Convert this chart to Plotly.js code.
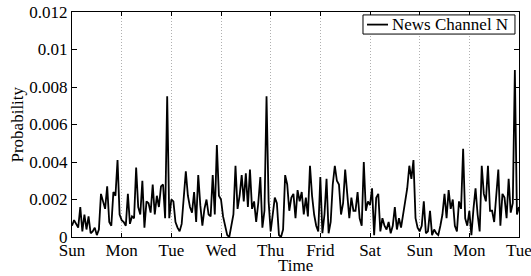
<!DOCTYPE html>
<html>
<head>
<meta charset="utf-8">
<script src="https://cdn.plot.ly/plotly-3.0.1.min.js"></script>
<style>html,body{margin:0;padding:0;background:#fff;}#chart{width:531px;height:276px;}</style>
</head>
<body>
<div id="chart"></div>
<script>
// Hourly probability values, one array per day
const sun1 = [0.0006,0.0009,0.0007,0.0005,0.0016,0.0003,0.0012,0.0004,0.0011,0.0002,0.0003,0.0005,0.0001,0.0004,0.0023,0.0019,0.0015,0.0027,0.0008,0.0006,0.0024,0.0022,0.0041,0.0012];
const mon1 = [0.0009,0.0008,0.0006,0.0023,0.0007,0.0011,0.0010,0.0037,0.0016,0.0012,0.0030,0.0005,0.0019,0.0018,0.0013,0.0028,0.0012,0.0022,0.0016,0.0027,0.0028,0.0010,0.0075,0.0010];
const tue1 = [0.0020,0.0019,0.0008,0.0005,0.0003,0.0007,0.0023,0.0035,0.0022,0.0016,0.0013,0.0024,0.0008,0.0033,0.0017,0.0006,0.0015,0.0020,0.0012,0.0011,0.0033,0.0012,0.0049,0.0022];
const wed  = [0.0020,0.0011,0.0006,0.0001,0.0000,0.0006,0.0012,0.0038,0.0015,0.0022,0.0033,0.0019,0.0034,0.0016,0.0036,0.0015,0.0019,0.0008,0.0018,0.0032,0.0005,0.0014,0.0075,0.0019];
const thu  = [0.0003,0.0012,0.0021,0.0018,0.0001,0.0000,0.0004,0.0033,0.0028,0.0014,0.0021,0.0023,0.0010,0.0025,0.0019,0.0024,0.0012,0.0021,0.0011,0.0038,0.0022,0.0012,0.0006,0.0003];
const fri  = [0.0032,0.0002,0.0012,0.0031,0.0002,0.0008,0.0028,0.0038,0.0030,0.0028,0.0012,0.0018,0.0036,0.0023,0.0010,0.0021,0.0014,0.0014,0.0024,0.0010,0.0006,0.0040,0.0014,0.0019];
const sat  = [0.0017,0.0026,0.0001,0.0021,0.0023,0.0003,0.0010,0.0006,0.0004,0.0008,0.0002,0.0006,0.0016,0.0004,0.0010,0.0005,0.0011,0.0019,0.0026,0.0038,0.0031,0.0041,0.0010,0.0005];
const sun2 = [0.0003,0.0006,0.0019,0.0002,0.0003,0.0014,0.0001,0.0004,0.0002,0.0001,0.0006,0.0012,0.0023,0.0010,0.0025,0.0015,0.0020,0.0006,0.0003,0.0019,0.0015,0.0047,0.0010,0.0006];
const mon2 = [0.0014,0.0001,0.0015,0.0026,0.0012,0.0003,0.0038,0.0023,0.0019,0.0038,0.0014,0.0014,0.0008,0.0022,0.0036,0.0006,0.0023,0.0021,0.0010,0.0031,0.0013,0.0018,0.0089,0.0012,0.0016];

const dayLabels = ["Sun","Mon","Tue","Wed","Thu","Frid","Sat","Sun","Mon","Tue"];
const dayTicks  = [0,24,48,72,96,120,144,168,192,216];
const yTicks    = [0,0.002,0.004,0.006,0.008,0.01,0.012];
const seriesName = "News Channel N";

const values = [].concat(sun1,mon1,tue1,wed,thu,fri,sat,sun2,mon2);
const hours = values.map((_, i) => i);

const font = "Liberation Serif";

Plotly.newPlot("chart", [{
  x: hours, y: values, type: "scatter", mode: "lines", name: seriesName,
  line: {color: "#000", width: 1.8}
}], {
  width: 531, height: 276,
  margin: {l: 72, r: 12, t: 12, b: 39},
  paper_bgcolor: "#fff", plot_bgcolor: "#fff",
  font: {family: font, size: 17, color: "#000"},
  showlegend: false,
  xaxis: {range: [0, 216], tickvals: dayTicks, ticktext: dayLabels,
          ticks: "inside", ticklen: 4, tickcolor: "#000", ticklabeloverflow: "allow",
          ticklabelstandoff: -2,
          showline: true, linecolor: "#000", linewidth: 1, mirror: "ticks",
          showgrid: true, gridcolor: "#b0b0b0", griddash: "1px,2px", gridwidth: 1,
          zeroline: false, tickfont: {family: font, size: 17}},
  yaxis: {range: [0, 0.012], tickvals: yTicks,
          ticks: "inside", ticklen: 5, tickcolor: "#000",
          showline: true, linecolor: "#000", linewidth: 1, mirror: "ticks",
          showgrid: false, zeroline: false, tickfont: {family: font, size: 17}},
  shapes: [
    // legend box and its line sample
    {type: "rect", xref: "paper", yref: "paper", x0: 0.651, x1: 0.991, y0: 0.902, y1: 0.987,
     line: {color: "#000", width: 1}, fillcolor: "#fff", layer: "above"},
    {type: "line", xref: "paper", yref: "paper", x0: 0.660, x1: 0.707, y0: 0.944, y1: 0.944,
     line: {color: "#000", width: 1.8}, layer: "above"}
  ],
  annotations: [
    {text: seriesName, xref: "paper", yref: "paper", x: 0.712, y: 0.944,
     xanchor: "left", yanchor: "middle", showarrow: false, font: {family: font, size: 17}},
    {text: "Time", xref: "paper", yref: "paper", x: 0.5, y: 0, yshift: -28,
     xanchor: "center", yanchor: "middle", showarrow: false, font: {family: font, size: 17}},
    {text: "Probability", xref: "paper", yref: "paper", x: 0, xshift: -55, y: 0.5,
     xanchor: "center", yanchor: "middle", textangle: -90, showarrow: false, font: {family: font, size: 17}}
  ]
}, {displayModeBar: false, staticPlot: true});
</script>
</body>
</html>
